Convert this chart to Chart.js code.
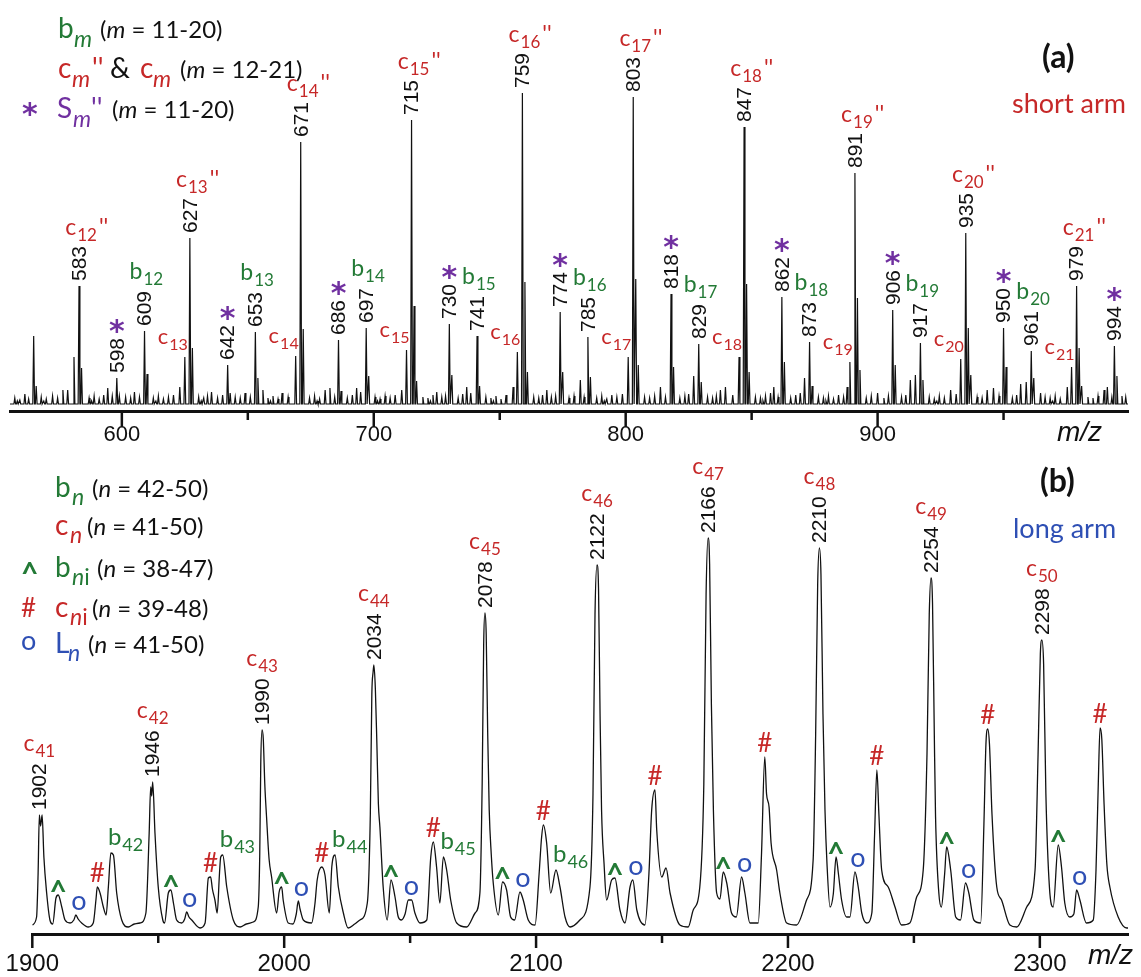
<!DOCTYPE html>
<html>
<head>
<meta charset="utf-8">
<script src="https://cdn.jsdelivr.net/npm/chart.js@4.4.0/dist/chart.umd.min.js"></script>
<style>
  body { margin: 0; background: #fff; }
  #wrap { position: relative; width: 1141px; height: 977px; overflow: hidden; }
  canvas { position: absolute; left: 0; }
  .t { position: absolute; white-space: nowrap; line-height: 1; color: #111; font-family: Lato, "Open Sans", sans-serif; }
  .arial { font-family: "Liberation Sans", Arial, sans-serif; }
  .dv { font-family: "DejaVu Sans", sans-serif; }
  .bold { font-weight: bold; }
  .g { color: #237a36; }
  .r { color: #c62828; }
  .p { color: #7030a0; }
  .b { color: #2e4fb4; }
</style>
</head>
<body>
<div id="wrap">
  <canvas id="short" width="1141" height="460" style="top:0"></canvas>
  <canvas id="long" width="1141" height="517" style="top:460px"></canvas>
</div>
<script>
// ---- (a) short arm: stick peaks [m/z, intensity] ----
const shortPeaks = [
  [565, 75], [566, 25], [581, 54], [583, 125], [584, 43],
  [598, 33], [599, 15], [609, 80], [610, 37],
  [625, 54], [627, 173], [628, 63], [642, 46], [643, 18], [653, 79], [654, 33],
  [669, 55], [671, 269], [672, 82], [686, 71], [687, 20], [697, 83], [698, 35],
  [713, 61], [715, 291], [716, 105], [717, 30], [730, 87], [731, 36], [741, 75], [742, 25],
  [757, 59], [759, 318], [760, 129], [761, 39], [774, 99], [775, 39], [785, 74], [786, 34],
  [801, 54], [803, 314], [804, 132], [805, 46], [818, 117], [819, 44], [827, 35], [829, 67], [830, 29],
  [845, 54], [847, 284], [848, 127], [849, 39], [862, 114], [863, 49], [871, 33], [873, 69], [874, 25],
  [889, 49], [891, 238], [892, 113], [893, 41], [906, 101], [907, 46], [915, 36], [917, 68], [918, 31],
  [933, 52], [935, 178], [936, 83], [937, 36], [950, 83], [951, 44], [959, 29], [961, 60], [962, 33],
  [977, 44], [979, 125], [980, 63], [981, 25], [994, 65], [995, 35]
];
// small noise spikes along the baseline
const shortNoise = [
  [557.5, 13], [558.5, 10], [559.5, 11], [561.5, 17], [563, 12], [568, 14], [569, 10], [570, 12], [572.5, 15], [574.5, 13], [576.6, 21], [578.5, 21],
  [587, 13], [588, 10], [589, 15], [591, 12], [592.8, 16], [594.4, 23], [596.2, 15],
  [601.5, 14], [603.5, 13], [605, 19], [607, 14], [612.5, 13], [613.5, 10], [614.5, 15], [616.5, 12], [618.5, 14], [620.5, 16], [623, 24],
  [630.5, 14], [631.5, 10], [632.5, 13], [634, 15], [635.6, 19], [638, 13], [640, 16],
  [645, 14], [647, 13], [648.9, 18], [651, 14], [656, 21], [658, 13], [659, 10], [660, 15], [662, 12], [663.6, 18], [666, 14],
  [674.5, 13], [676.5, 15], [677.5, 10], [678.5, 12], [680.7, 21], [682.6, 23], [684.5, 14], [689.5, 13], [691.5, 16], [693.2, 23], [694.8, 19],
  [700.5, 14], [701.5, 10], [702.5, 12], [704.5, 15], [706.5, 13], [708.5, 16], [711.1, 21],
  [719.5, 14], [721.5, 13], [722.5, 10], [723.5, 16], [725, 19], [727, 14], [728.5, 15], [733.5, 13], [735.3, 17], [736.9, 24], [738.5, 18],
  [744.5, 14], [746.5, 13], [747.5, 10], [748.5, 15], [750.5, 12], [752.5, 16], [755.3, 24],
  [763.5, 14], [765.5, 13], [767, 16], [768.7, 21], [770.5, 14], [772.2, 15], [777.5, 13], [779.5, 15], [782, 31], [783.5, 14],
  [788.5, 13], [790.5, 15], [791.5, 10], [792.5, 12], [794.5, 16], [796.5, 14], [798.7, 17],
  [807.5, 14], [809.5, 13], [811.5, 15], [813.8, 24], [815.8, 14], [821.5, 13], [823.5, 15], [825, 17],
  [832.5, 14], [834.5, 13], [836, 15], [837.6, 21], [839.6, 24], [842.5, 16],
  [851.5, 14], [853.5, 13], [854.5, 10], [855.5, 15], [857.5, 18], [858.8, 24], [860.5, 14], [865.5, 13], [867.5, 16], [869.3, 18],
  [876.5, 14], [878.5, 13], [879.5, 10], [880.5, 15], [882.5, 12], [884.5, 16], [886.5, 14], [887.9, 24],
  [895.5, 13], [897.5, 15], [900, 18], [902.5, 13], [904.3, 15], [909.5, 14], [911.2, 16], [913, 31],
  [920.5, 14], [922.5, 12], [923.5, 10], [924.5, 15], [926.5, 13], [929, 21], [931.2, 17],
  [939.5, 14], [941.5, 13], [943.5, 21], [946, 23], [948.2, 15], [953.5, 13], [955.2, 16], [956.8, 27],
  [964.7, 18], [966.5, 14], [968.5, 13], [969.5, 10], [970.5, 15], [972.5, 12], [975.3, 24],
  [983.5, 14], [985.5, 13], [987.5, 15], [989.9, 21], [991.2, 24], [993, 14], [997, 15], [998.5, 14]
];
const shortBase = 7;
const shortRange = [555.6, 999.4];
const shortTicks = [600, 650, 700, 750, 800, 850, 900, 950];

// labels of (a)
const shortNumbers = [583, 598, 609, 627, 642, 653, 671, 686, 697, 715, 730, 741, 759, 774, 785,
  803, 818, 829, 847, 862, 873, 891, 906, 917, 935, 950, 961, 979, 994];
const cPrimeMz = [583, 627, 671, 715, 759, 803, 847, 891, 935, 979];   // c12'' .. c21''
const bShortMz = [609, 653, 697, 741, 785, 829, 873, 917, 961];        // b12 .. b20
const sShortMz = [598, 642, 686, 730, 774, 818, 862, 906, 950, 994];   // S11'' .. S20''
const cShortMz = [625, 669, 713, 757, 801, 845, 889, 933, 977];        // c13 .. c21

// ---- (b) long arm: profile trace [m/z, intensity] ----
const longTrace = [
  [1900, 9], [1901.7, 17], [1902.3, 60], [1902.8, 119], [1903.3, 108], [1903.9, 119], [1904.6, 77], [1905.7, 41], [1907, 14], [1908.1, 10],
  [1909.4, 36], [1910.3, 39], [1911.7, 27], [1913, 14], [1915, 11],
  [1916.5, 14], [1917.3, 19], [1918.2, 15], [1919.6, 11], [1922.2, 7], [1924.2, 11],
  [1925.3, 35], [1925.8, 47], [1926.9, 41], [1928.2, 27], [1929.3, 19],
  [1930.2, 47], [1931.2, 81], [1932.2, 79], [1933.5, 41], [1935.5, 14], [1938.1, 7], [1940.5, 10], [1942.8, 11], [1945.1, 21],
  [1946.4, 101], [1947, 147], [1947.4, 138], [1947.8, 152], [1948.7, 101], [1950, 47], [1951.8, 14], [1952.5, 11],
  [1954, 41], [1955, 44], [1956.1, 30], [1957.3, 14], [1959.3, 11],
  [1960.5, 15], [1961.3, 22], [1962.2, 17], [1963.3, 14], [1966.6, 6], [1968.6, 11],
  [1969.9, 56], [1970.8, 57], [1971.5, 45], [1972.5, 34], [1973.4, 21],
  [1974.3, 60], [1974.8, 77], [1975.6, 79], [1977.2, 47], [1979.8, 14], [1982.5, 7], [1985, 10], [1987.7, 12], [1989.7, 27],
  [1990.3, 80], [1990.7, 170], [1991.2, 204], [1991.7, 195], [1992.3, 150], [1993, 117], [1994, 75], [1995, 57], [1997, 21],
  [1998, 42], [1999, 47], [1999.6, 34], [2001.6, 11], [2003.5, 10],
  [2004.8, 20], [2005.6, 33], [2006.3, 25], [2007.6, 14], [2010.9, 11],
  [2012.2, 30], [2013.1, 54], [2014.9, 67], [2016.2, 59], [2017.9, 21],
  [2018.9, 67], [2020.2, 79], [2021.5, 47], [2023.5, 21], [2025.4, 6], [2028, 10], [2030.1, 14], [2033, 31],
  [2034.2, 120], [2034.8, 240], [2035.3, 262], [2035.6, 269], [2036.2, 245], [2036.8, 190], [2037.4, 130], [2038, 107], [2039.3, 47], [2040.9, 14],
  [2042.4, 54], [2044, 37], [2045.3, 17], [2046.5, 14], [2048, 20],
  [2049.3, 34], [2050.6, 34], [2051.9, 21], [2053.9, 11], [2056.6, 14],
  [2058.2, 77], [2059.2, 92], [2060.5, 67], [2061.8, 31],
  [2063.2, 77], [2064.5, 64], [2066.1, 34], [2068.5, 11], [2072.4, 7], [2075.8, 21], [2077.7, 41],
  [2078.6, 150], [2079.2, 290], [2079.7, 321], [2080.2, 300], [2080.8, 200], [2081.4, 124], [2082.2, 80], [2083, 51], [2085, 19],
  [2086.7, 52], [2088.3, 44], [2089.9, 17], [2091.5, 14],
  [2093.6, 42], [2094.9, 34], [2096.9, 14], [2099.6, 9],
  [2101.2, 60], [2102.2, 97], [2102.9, 109], [2104.2, 91], [2105.8, 41],
  [2107.9, 64], [2109.5, 47], [2111.5, 17], [2113.5, 7], [2117.4, 14], [2121.4, 47],
  [2122.6, 140], [2123.4, 320], [2124.2, 369], [2124.8, 345], [2125.4, 220], [2126, 124], [2127, 70], [2128, 34],
  [2130, 54], [2131.3, 56], [2133.3, 24], [2135.3, 11],
  [2137.3, 47], [2138.4, 54], [2140, 24], [2143.2, 9],
  [2144.8, 60], [2145.9, 124], [2147.2, 144], [2147.9, 104], [2149.9, 57],
  [2151.6, 66], [2153.2, 41], [2157.1, 9], [2160.4, 7], [2162.4, 24], [2165, 47],
  [2166.6, 150], [2167.5, 340], [2168.3, 396], [2168.9, 370], [2169.6, 230], [2170.4, 124], [2171.7, 41], [2173, 35],
  [2174.3, 62], [2175.7, 51], [2177.6, 21], [2179.5, 17],
  [2181.6, 57], [2182.9, 41], [2184.9, 11], [2188.2, 11],
  [2189.5, 80], [2190.8, 177], [2191.5, 140], [2192.5, 127], [2193.3, 91], [2195.5, 64], [2196.8, 41], [2199.5, 11], [2203.4, 9], [2207.4, 34], [2210, 74],
  [2211, 200], [2211.8, 350], [2212.5, 386], [2213.1, 360], [2213.9, 220], [2214.7, 124], [2215.5, 70], [2216.7, 27], [2218, 40],
  [2219.1, 77], [2220, 61], [2221.3, 34], [2223.3, 17], [2224.6, 17],
  [2226.6, 62], [2227.9, 47], [2229.3, 21], [2231.3, 11], [2233.3, 21],
  [2234.4, 100], [2235.3, 164], [2236.1, 120], [2237.2, 64], [2239.8, 47], [2242.5, 27], [2245.1, 9], [2248.4, 11], [2251.1, 37], [2253.7, 64],
  [2255.2, 180], [2256.1, 320], [2256.8, 356], [2257.4, 330], [2258.1, 200], [2258.6, 117], [2259.9, 41], [2260.9, 27],
  [2262.2, 60], [2263, 87], [2264.6, 64], [2266.6, 17], [2268.5, 14],
  [2270.5, 51], [2271.8, 41], [2273.8, 14], [2276.5, 11],
  [2277.8, 110], [2278.6, 190], [2279.3, 205], [2280, 190], [2281, 120], [2282.9, 47], [2284.8, 34], [2288.1, 9], [2290.8, 7], [2294.8, 27], [2298.1, 64],
  [2299.3, 180], [2300.2, 280], [2300.8, 294], [2301.5, 270], [2302.4, 140], [2303.8, 47], [2305.3, 27],
  [2307.3, 89], [2308.6, 67], [2309.9, 31], [2311.9, 17], [2313.5, 20],
  [2314.6, 44], [2315.9, 34], [2318.5, 11], [2321.2, 14],
  [2322.3, 64], [2323.2, 150], [2323.9, 206], [2324.6, 195], [2325.5, 130], [2326.6, 70], [2327.8, 47], [2331.1, 17], [2334.5, 6], [2335, 6]
];
const longRange = [1900, 2335];
const longTicks = [1900, 1950, 2000, 2050, 2100, 2150, 2200, 2250, 2300];

// labels of (b)
const longNumbers = [1902, 1946, 1990, 2034, 2078, 2122, 2166, 2210, 2254, 2298]; // c41 .. c50
const bLongMz = [1931, 1975, 2019, 2063, 2108];                                   // b42 .. b46
const caretMz = [1910, 1955, 1999, 2043, 2087, 2131, 2175, 2219, 2263, 2307];
const hashMz = [1926, 1970, 2015, 2059, 2103, 2147, 2191, 2235, 2279, 2324];
const circleMz = [1917, 1961, 2005, 2050, 2094, 2138, 2182, 2227, 2271, 2315];

const GREEN = '#237a36', RED = '#c62828', PURPLE = '#7030a0', BLUE = '#2e4fb4', INK = '#111';
const LABEL_FONT = 'Lato, "Open Sans", sans-serif';
const NUM_FONT = '"Liberation Sans", Arial, sans-serif';

// stick peaks -> narrow triangles on a flat baseline
function stickTrace(peaks, base, range) {
  const all = peaks.slice().sort((a, b) => a[0] - b[0]);
  const pts = [{ x: range[0], y: base }];
  all.forEach(([mz, h]) => {
    pts.push({ x: mz - 0.35, y: base }, { x: mz, y: h }, { x: mz + 0.35, y: base });
  });
  pts.push({ x: range[1], y: base });
  return pts;
}

function peakNear(list, mz, lo, hi) {
  let best = null;
  list.forEach(p => {
    if (p[0] >= mz + lo && p[0] <= mz + hi && (!best || p[1] > best[1])) best = p;
  });
  return best;
}

// ion label: base letter, subscript, optional double prime
function ion(ctx, x, y, base, sub, prime, color, sz, subSz, align) {
  ctx.save();
  ctx.fillStyle = color;
  ctx.textBaseline = 'alphabetic';
  ctx.textAlign = 'left';
  ctx.font = sz + 'px ' + LABEL_FONT;
  const wb = ctx.measureText(base).width;
  ctx.font = subSz + 'px ' + LABEL_FONT;
  const ws = ctx.measureText(sub).width;
  const core = wb + 1 + ws;
  let x0 = x;
  if (align === 'center') x0 = x - core / 2;
  else if (align === 'right') x0 = x - core;
  ctx.font = sz + 'px ' + LABEL_FONT;
  ctx.fillText(base, x0, y);
  ctx.font = subSz + 'px ' + LABEL_FONT;
  ctx.fillText(sub, x0 + wb + 1, y + 6);
  if (prime) {
    ctx.font = sz + 'px ' + LABEL_FONT;
    ctx.fillText("''", x0 + core + 2, y);
  }
  ctx.restore();
}

// rotated m/z value above a peak, returns top pixel of the text
function vertNumber(ctx, x, yTop, text, size) {
  ctx.save();
  ctx.font = size + 'px ' + NUM_FONT;
  ctx.fillStyle = INK;
  const w = ctx.measureText(text).width;
  ctx.translate(x + 1, yTop - 5);
  ctx.rotate(-Math.PI / 2);
  ctx.textAlign = 'left';
  ctx.textBaseline = 'middle';
  ctx.fillText(text, 0, 0);
  ctx.restore();
  return yTop - 5 - w;
}

function symbol(ctx, x, baseline, ch, color, font) {
  ctx.save();
  ctx.font = font;
  ctx.fillStyle = color;
  ctx.textAlign = 'center';
  ctx.textBaseline = 'alphabetic';
  ctx.fillText(ch, x, baseline);
  ctx.restore();
}

const STAR_FONT = 'bold 30px "DejaVu Sans", sans-serif';
const CARET_FONT = 'bold 30px ' + LABEL_FONT;
const HASH_FONT = '26px ' + LABEL_FONT;
const CIRCLE_FONT = '27px ' + LABEL_FONT;

const tickMarks = {
  id: 'tickMarks',
  afterDraw(chart, args, opts) {
    const s = chart.scales.x;
    const ctx = chart.ctx;
    ctx.save();
    ctx.strokeStyle = INK;
    ctx.lineWidth = 2.5;
    s.ticks.forEach(t => {
      const x = s.getPixelForValue(t.value);
      const len = t.value % 100 === 0 ? opts.major : opts.minor;
      ctx.beginPath();
      ctx.moveTo(x, s.top);
      ctx.lineTo(x, s.top + len);
      ctx.stroke();
    });
    ctx.restore();
  }
};

const shortLabels = {
  id: 'shortLabels',
  afterDatasetsDraw(chart) {
    const ctx = chart.ctx, xs = chart.scales.x, ys = chart.scales.y;
    const tops = {};
    shortNumbers.forEach(v => {
      const p = peakNear(shortPeaks, v, -0.2, 0.2);
      const x = xs.getPixelForValue(p[0]);
      tops[v] = vertNumber(ctx, x, ys.getPixelForValue(p[1]), String(v), 21);
    });
    cPrimeMz.forEach((v, i) => {
      const x = xs.getPixelForValue(v);
      ion(ctx, x + 2, tops[v] - 11, 'c', String(12 + i), true, RED, 23, 17, 'center');
    });
    bShortMz.forEach((v, i) => {
      const x = xs.getPixelForValue(v);
      ion(ctx, x - 15, tops[v] - 12, 'b', String(12 + i), false, GREEN, 23, 17, 'left');
    });
    sShortMz.forEach(v => {
      const x = xs.getPixelForValue(v);
      symbol(ctx, x, tops[v] - 14 + 17, '*', PURPLE, STAR_FONT);
    });
    cShortMz.forEach((v, i) => {
      const p = peakNear(shortPeaks, v, -0.2, 0.2);
      const x = xs.getPixelForValue(v);
      ion(ctx, x + 3, ys.getPixelForValue(p[1]) - 13, 'c', String(13 + i), false, RED, 22, 16, 'right');
    });
  }
};

const longLabels = {
  id: 'longLabels',
  afterDatasetsDraw(chart) {
    const ctx = chart.ctx, xs = chart.scales.x, ys = chart.scales.y;
    longNumbers.forEach((v, i) => {
      const p = peakNear(longTrace, v, 0, 4);
      const x = xs.getPixelForValue(p[0]);
      const top = vertNumber(ctx, x, ys.getPixelForValue(p[1]), String(v), 21);
      ion(ctx, x, top - 12, 'c', String(41 + i), false, RED, 23, 17, 'center');
    });
    bLongMz.forEach((v, i) => {
      const p = peakNear(longTrace, v, -1.5, 1.5);
      ion(ctx, xs.getPixelForValue(p[0]) - 3, ys.getPixelForValue(p[1]) - 8, 'b', String(42 + i), false, GREEN, 24, 18, 'left');
    });
    caretMz.forEach(v => {
      const p = peakNear(longTrace, v, -1.5, 1.5);
      symbol(ctx, xs.getPixelForValue(p[0]), ys.getPixelForValue(p[1]) - 5 + 12, '^', GREEN, CARET_FONT);
    });
    hashMz.forEach(v => {
      const p = peakNear(longTrace, v, -1.5, 1.5);
      symbol(ctx, xs.getPixelForValue(p[0]), ys.getPixelForValue(p[1]) - 5, '#', RED, HASH_FONT);
    });
    circleMz.forEach(v => {
      const p = peakNear(longTrace, v, -1.5, 1.5);
      symbol(ctx, xs.getPixelForValue(p[0]) + 3, ys.getPixelForValue(p[1]) - 5, 'o', BLUE, CIRCLE_FONT);
    });
  }
};

function axisOptions(range, ticks, height, fontSize, pad) {
  return {
    type: 'linear',
    min: range[0],
    max: range[1],
    afterBuildTicks: s => { s.ticks = ticks.map(v => ({ value: v })); },
    afterFit: s => { s.height = height; s.paddingLeft = 0; s.paddingRight = 0; },
    grid: { display: false, drawTicks: false },
    border: { display: true, width: 3, color: INK },
    ticks: {
      autoSkip: false,
      maxRotation: 0,
      padding: pad,
      color: INK,
      font: { family: NUM_FONT, size: fontSize },
      callback: v => (v % 100 === 0 ? String(v) : '')
    }
  };
}

new Chart(document.getElementById('short'), {
  type: 'line',
  data: {
    datasets: [{
      data: stickTrace(shortPeaks.concat(shortNoise), shortBase, shortRange),
      borderColor: INK, borderWidth: 1.2, pointRadius: 0, tension: 0, fill: false
    }]
  },
  options: {
    responsive: false, animation: false, devicePixelRatio: 1,
    layout: { padding: { left: 10, right: 13, top: 80, bottom: 0 } },
    plugins: { legend: { display: false }, tooltip: { enabled: false }, tickMarks: { major: 16, minor: 9 } },
    scales: {
      x: axisOptions(shortRange, shortTicks, 49, 22, 11),
      y: { display: false, min: 0, max: 331 }
    }
  },
  plugins: [tickMarks, shortLabels]
});

new Chart(document.getElementById('long'), {
  type: 'line',
  data: {
    datasets: [{
      data: longTrace.map(p => ({ x: p[0], y: p[1] })),
      borderColor: INK, borderWidth: 1.3, pointRadius: 0, fill: false,
      cubicInterpolationMode: 'monotone'
    }]
  },
  options: {
    responsive: false, animation: false, devicePixelRatio: 1,
    layout: { padding: { left: 32.3, right: 13, top: 60, bottom: 0 } },
    plugins: { legend: { display: false }, tooltip: { enabled: false }, tickMarks: { major: 14, minor: 9 } },
    scales: {
      x: axisOptions(longRange, longTicks, 43, 24, 16),
      y: { display: false, min: 0, max: 414 }
    }
  },
  plugins: [tickMarks, longLabels]
});

// legends and panel captions
const wrap = document.getElementById('wrap');
function put(html, x, base, size, cls) {
  const el = document.createElement('span');
  el.className = 't ' + (cls || '');
  el.innerHTML = html;
  let k = 0.887;
  if (/arial/.test(cls || '')) k = 0.8465;
  if (/dv/.test(cls || '')) k = 0.87;
  el.style.left = x + 'px';
  el.style.top = (base - k * size) + 'px';
  el.style.fontSize = size + 'px';
  wrap.appendChild(el);
}
put('b', 58, 38, 28, 'g'); put('<i>m</i>', 74, 47, 23, 'g'); put('(<i>m</i> = 11-20)', 100, 38, 24);
put('c', 58, 78, 28, 'r'); put('<i>m</i>', 72, 87, 23, 'r'); put("''", 92, 78, 28, 'r');
put('&amp;', 110, 78, 28); put('c', 140, 78, 28, 'r'); put('<i>m</i>', 153, 87, 23, 'r');
put('(<i>m</i> = 12-21)', 180, 78, 24);
put('*', 22, 125, 30, 'p dv bold'); put('S', 57, 118, 28, 'p'); put('<i>m</i>', 73, 127, 23, 'p');
put("''", 91, 118, 28, 'p'); put('(<i>m</i> = 11-20)', 112, 118, 24);
put('(a)', 1042, 68, 32, 'bold'); put('short arm', 1012, 113, 27, 'r');
put('<i>m/z</i>', 1057, 442, 28, 'arial');

put('b', 55, 497, 28, 'g'); put('<i>n</i>', 72, 505, 23, 'g'); put('(<i>n</i> = 42-50)', 92, 497, 24);
put('c', 55, 535, 28, 'r'); put('<i>n</i>', 70, 543, 23, 'r'); put('(<i>n</i> = 41-50)', 87, 535, 24);
put('^', 21, 584, 30, 'g bold'); put('b', 55, 577, 28, 'g'); put('<i>n</i>i', 72, 585, 23, 'g');
put('(<i>n</i> = 38-47)', 97, 577, 24);
put('#', 21, 617, 26, 'r'); put('c', 55, 617, 28, 'r'); put('<i>n</i>i', 70, 625, 23, 'r');
put('(<i>n</i> = 39-48)', 92, 617, 24);
put('o', 21, 650, 27, 'b'); put('L', 55, 653, 28, 'b'); put('<i>n</i>', 68, 661, 23, 'b');
put('(<i>n</i> = 41-50)', 88, 653, 24);
put('(b)', 1040, 492, 32, 'bold'); put('long arm', 1013, 538, 27, 'b');
put('<i>m/z</i>', 1088, 965, 28, 'arial');
</script>
</body>
</html>
